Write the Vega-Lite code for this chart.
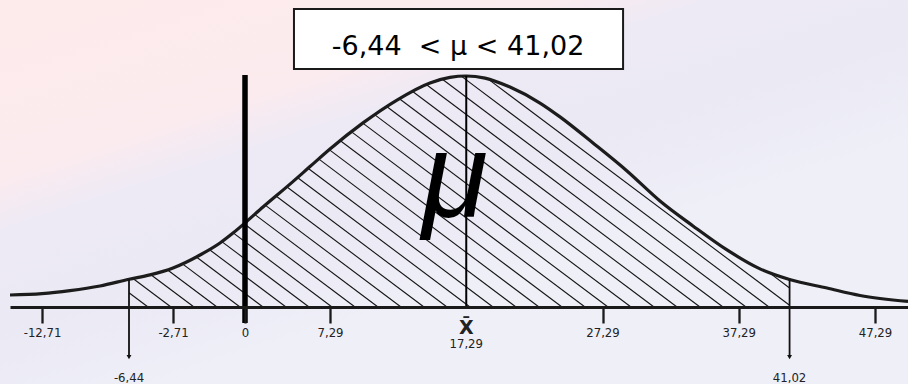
{
  "$schema": "https://vega.github.io/schema/vega-lite/v6.json",
  "width": 908,
  "height": 307,
  "autosize": {"type": "none"},
  "padding": {"left": 0, "top": 0, "right": 0, "bottom": 77},
  "background": "#eeeaf3",
  "config": {"view": {"stroke": null}},
  "datasets": {
    "curve": [
      {"x": -15.02, "y": 0.052}, {"x": -12.71, "y": 0.058}, {"x": -10.692, "y": 0.071}, {"x": -8.53, "y": 0.091},
      {"x": -6.44, "y": 0.120}, {"x": -4.66, "y": 0.139}, {"x": -2.71, "y": 0.169}, {"x": -1.694, "y": 0.225},
      {"x": -0.941, "y": 0.277}, {"x": -0.452, "y": 0.320}, {"x": 0, "y": 0.364}, {"x": 1.544, "y": 0.433},
      {"x": 3.859, "y": 0.532}, {"x": 5.575, "y": 0.608}, {"x": 7.29, "y": 0.684}, {"x": 9.712, "y": 0.797},
      {"x": 12.207, "y": 0.896}, {"x": 14.629, "y": 0.970}, {"x": 16.097, "y": 0.994}, {"x": 17.29, "y": 1.0},
      {"x": 18.666, "y": 0.991}, {"x": 20.501, "y": 0.952}, {"x": 22.703, "y": 0.883}, {"x": 24.171, "y": 0.823},
      {"x": 26.593, "y": 0.710}, {"x": 29.088, "y": 0.589}, {"x": 31.51, "y": 0.459}, {"x": 33.932, "y": 0.351},
      {"x": 36.428, "y": 0.247}, {"x": 38.85, "y": 0.165}, {"x": 41.02, "y": 0.119}, {"x": 43.768, "y": 0.082},
      {"x": 46.19, "y": 0.050}, {"x": 49.7, "y": 0.024}
    ],
    "hatch": [
      {"x_top": -6.44, "y_top": 0.0617, "x_bot": -4.829, "y_bot": 0},
      {"x_top": -6.101, "y_top": 0.1234, "x_bot": -2.88, "y_bot": 0},
      {"x_top": -4.583, "y_top": 0.1398, "x_bot": -1.92, "y_bot": 0},
      {"x_top": -3.193, "y_top": 0.1615, "x_bot": -1.054, "y_bot": 0},
      {"x_top": -2.367, "y_top": 0.1879, "x_bot": -0.188, "y_bot": 0},
      {"x_top": -1.841, "y_top": 0.2173, "x_bot": 1.544, "y_bot": 0},
      {"x_top": -1.344, "y_top": 0.2489, "x_bot": 3.516, "y_bot": 0},
      {"x_top": -0.873, "y_top": 0.2831, "x_bot": 5.489, "y_bot": 0},
      {"x_top": -0.444, "y_top": 0.3208, "x_bot": 7.437, "y_bot": 0},
      {"x_top": -0.034, "y_top": 0.3602, "x_bot": 9.125, "y_bot": 0},
      {"x_top": 0.823, "y_top": 0.4009, "x_bot": 10.813, "y_bot": 0},
      {"x_top": 1.732, "y_top": 0.4411, "x_bot": 12.501, "y_bot": 0},
      {"x_top": 2.659, "y_top": 0.4805, "x_bot": 14.189, "y_bot": 0},
      {"x_top": 3.576, "y_top": 0.5203, "x_bot": 15.877, "y_bot": 0},
      {"x_top": 4.494, "y_top": 0.5606, "x_bot": 17.565, "y_bot": 0},
      {"x_top": 5.403, "y_top": 0.6009, "x_bot": 19.253, "y_bot": 0},
      {"x_top": 6.312, "y_top": 0.6411, "x_bot": 20.941, "y_bot": 0},
      {"x_top": 7.221, "y_top": 0.6814, "x_bot": 22.629, "y_bot": 0},
      {"x_top": 8.053, "y_top": 0.7195, "x_bot": 24.317, "y_bot": 0},
      {"x_top": 8.875, "y_top": 0.758, "x_bot": 26.005, "y_bot": 0},
      {"x_top": 9.697, "y_top": 0.7961, "x_bot": 27.693, "y_bot": 0},
      {"x_top": 10.585, "y_top": 0.8316, "x_bot": 29.381, "y_bot": 0},
      {"x_top": 11.473, "y_top": 0.8671, "x_bot": 31.07, "y_bot": 0},
      {"x_top": 12.384, "y_top": 0.9013, "x_bot": 32.758, "y_bot": 0},
      {"x_top": 13.382, "y_top": 0.932, "x_bot": 34.446, "y_bot": 0},
      {"x_top": 14.38, "y_top": 0.9623, "x_bot": 36.134, "y_bot": 0},
      {"x_top": 15.562, "y_top": 0.9848, "x_bot": 37.822, "y_bot": 0},
      {"x_top": 16.949, "y_top": 0.9983, "x_bot": 39.51, "y_bot": 0},
      {"x_top": 18.901, "y_top": 0.9866, "x_bot": 41.02, "y_bot": 0.0078},
      {"x_top": 39.451, "y_top": 0.1519, "x_bot": 41.02, "y_bot": 0.0825}
    ],
    "ci": [
      {"x": -6.44, "top": 0.120, "bottom": -0.21, "tip": -0.2165, "label_y": -0.323, "label": "-6,44"},
      {"x": 41.02, "top": 0.119, "bottom": -0.21, "tip": -0.2165, "label_y": -0.323, "label": "41,02"}
    ]
  },
  "layer": [
    {
      "data": {"values": [{"x": -15.75, "x_end": 49.9, "y": -0.34, "y_end": 1.34}]},
      "mark": {"type": "rect", "color": {"gradient": "linear", "x1": 0, "y1": 0, "x2": 0.547, "y2": 0.716,
        "stops": [
          {"offset": 0, "color": "#fdebeb"},
          {"offset": 0.4, "color": "#fcebee"},
          {"offset": 0.53, "color": "#eeeaf5"},
          {"offset": 0.75, "color": "#eae9f4"},
          {"offset": 1, "color": "#efeff8"}
        ]}},
      "encoding": {
        "x": {"field": "x", "type": "quantitative", "title": null, "scale": {"domain": [-15.02, -12.71, -6.44, -2.71, 0, 7.29, 47.29, 49.7], "range": [10, 42, 129, 173, 245, 330, 875, 908], "nice": false, "zero": false}},
        "x2": {"field": "x_end"},
        "y": {"field": "y", "type": "quantitative", "axis": null, "scale": {"domain": [0, 1.329], "nice": false, "zero": false}},
        "y2": {"field": "y_end"}
      }
    },
    {
      "data": {"name": "hatch"},
      "mark": {"type": "rule", "color": "#141414", "strokeWidth": 1.1},
      "encoding": {
        "x": {"field": "x_top", "type": "quantitative", "title": null},
        "y": {"field": "y_top", "type": "quantitative", "axis": null},
        "x2": {"field": "x_bot"},
        "y2": {"field": "y_bot"}
      }
    },
    {
      "data": {"name": "curve"},
      "mark": {"type": "line", "color": "#1c1c1c", "strokeWidth": 3.2, "interpolate": "monotone"},
      "encoding": {
        "x": {"field": "x", "type": "quantitative", "title": null,
          "scale": {"domain": [-15.02, -12.71, -6.44, -2.71, 0, 7.29, 47.29, 49.7], "range": [10, 42, 129, 173, 245, 330, 875, 908], "nice": false, "zero": false},
          "axis": {
            "values": [-12.71, -2.71, 0, 7.29, 27.29, 37.29, 47.29],
            "labelExpr": "replace(toString(datum.value), '.', ',')",
            "grid": false, "title": null, "zindex": 1,
            "domainWidth": 3, "domainColor": "#1a1a1a",
            "tickWidth": 2.3, "tickSize": 16, "tickColor": "#1a1a1a",
            "labelFont": "DejaVu Sans Condensed, Liberation Sans Narrow, Liberation Sans",
            "labelFontSize": 13, "labelColor": "#222222", "labelPadding": 3,
            "labelFlush": false, "labelOverlap": false, "labelBound": false
          }},
        "y": {"field": "y", "type": "quantitative", "axis": null}
      }
    },
    {
      "data": {"name": "ci"},
      "mark": {"type": "rule", "color": "#111111", "strokeWidth": 1.8},
      "encoding": {
        "x": {"field": "x", "type": "quantitative", "title": null},
        "y": {"field": "bottom", "type": "quantitative", "axis": null},
        "y2": {"field": "top"}
      }
    },
    {
      "data": {"name": "ci"},
      "mark": {"type": "point", "shape": "triangle-down", "filled": true, "size": 24, "color": "#111111", "opacity": 1},
      "encoding": {
        "x": {"field": "x", "type": "quantitative", "title": null},
        "y": {"field": "tip", "type": "quantitative", "axis": null}
      }
    },
    {
      "data": {"name": "ci"},
      "mark": {"type": "text", "font": "DejaVu Sans Condensed, Liberation Sans Narrow, Liberation Sans", "fontSize": 13, "color": "#222222", "align": "center", "baseline": "alphabetic"},
      "encoding": {
        "x": {"field": "x", "type": "quantitative", "title": null},
        "y": {"field": "label_y", "type": "quantitative", "axis": null},
        "text": {"field": "label", "type": "nominal"}
      }
    },
    {
      "data": {"values": [{"x": 0, "y": -0.069, "y_end": 1.004}]},
      "mark": {"type": "rule", "color": "#000000", "strokeWidth": 5.5},
      "encoding": {
        "x": {"field": "x", "type": "quantitative", "title": null},
        "y": {"field": "y", "type": "quantitative", "axis": null},
        "y2": {"field": "y_end"}
      }
    },
    {
      "data": {"values": [{"x": 17.29, "y": 0, "y_end": 1.0}]},
      "mark": {"type": "rule", "color": "#000000", "strokeWidth": 2},
      "encoding": {
        "x": {"field": "x", "type": "quantitative", "title": null},
        "y": {"field": "y", "type": "quantitative", "axis": null},
        "y2": {"field": "y_end"}
      }
    },
    {
      "data": {"values": [{"x": 17.29, "y": -0.117, "label": "X̄"}]},
      "mark": {"type": "text", "font": "DejaVu Sans", "fontWeight": "bold", "fontSize": 19, "color": "#222222", "align": "center", "baseline": "alphabetic"},
      "encoding": {
        "x": {"field": "x", "type": "quantitative", "title": null},
        "y": {"field": "y", "type": "quantitative", "axis": null},
        "text": {"field": "label", "type": "nominal"}
      }
    },
    {
      "data": {"values": [{"x": 17.29, "y": -0.1775, "label": "17,29"}]},
      "mark": {"type": "text", "font": "DejaVu Sans Condensed, Liberation Sans Narrow, Liberation Sans", "fontSize": 13, "color": "#222222", "align": "center", "baseline": "alphabetic"},
      "encoding": {
        "x": {"field": "x", "type": "quantitative", "title": null},
        "y": {"field": "y", "type": "quantitative", "axis": null},
        "text": {"field": "label", "type": "nominal"}
      }
    },
    {
      "data": {"values": [{"x": 16.46, "y": 0.39, "label": "μ"}]},
      "mark": {"type": "text", "font": "Liberation Sans", "fontStyle": "italic", "fontSize": 120, "color": "#000000", "align": "center", "baseline": "alphabetic"},
      "encoding": {
        "x": {"field": "x", "type": "quantitative", "title": null},
        "y": {"field": "y", "type": "quantitative", "axis": null},
        "text": {"field": "label", "type": "nominal"}
      }
    },
    {
      "data": {"values": [{"x": 4.2, "x_end": 28.8, "y": 1.03, "y_end": 1.29}]},
      "mark": {"type": "rect", "fill": "#ffffff", "stroke": "#1a1a1a", "strokeWidth": 2},
      "encoding": {
        "x": {"field": "x", "type": "quantitative", "title": null},
        "x2": {"field": "x_end"},
        "y": {"field": "y", "type": "quantitative", "axis": null},
        "y2": {"field": "y_end"}
      }
    },
    {
      "data": {"values": [{"x": 16.69, "y": 1.091, "label": "-6,44\u00a0 < μ < 41,02"}]},
      "mark": {"type": "text", "font": "DejaVu Sans", "fontSize": 27, "color": "#000000", "align": "center", "baseline": "alphabetic"},
      "encoding": {
        "x": {"field": "x", "type": "quantitative", "title": null},
        "y": {"field": "y", "type": "quantitative", "axis": null},
        "text": {"field": "label", "type": "nominal"}
      }
    }
  ]
}
